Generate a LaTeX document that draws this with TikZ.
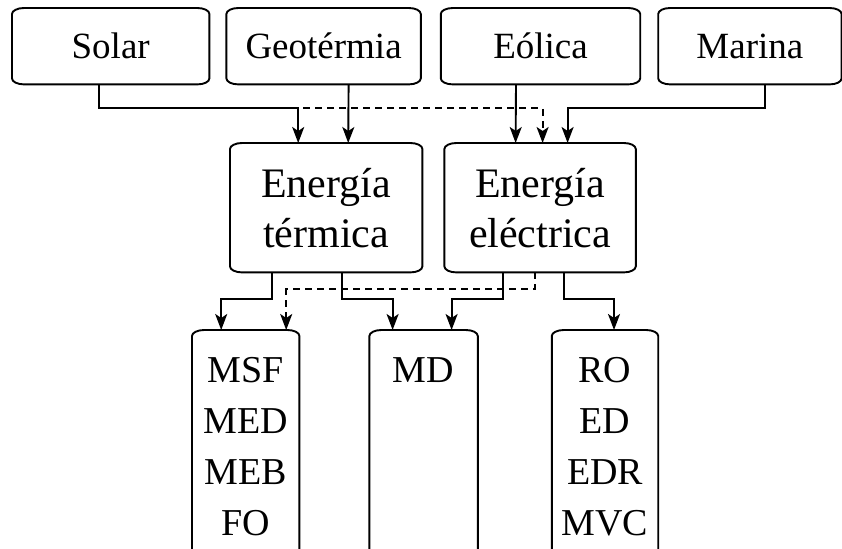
\documentclass[tikz,border=0pt]{standalone}
\usepackage{fontspec}
\setmainfont{Liberation Serif}
\usetikzlibrary{arrows.meta, positioning, calc}
\tikzstyle{line} = [line width=1.9pt]
\tikzstyle{arrow} = [line width=1.9pt, -{Stealth[length=16pt, width=12pt, inset=4pt]}]
\tikzstyle{dashedline} = [dash pattern=on 7pt off 5pt]
\tikzstyle{basic} = [rectangle, inner sep=0pt, align=center, text=black]
\tikzstyle{source} = [basic, minimum height=76pt, font=\fontsize{37}{43}\selectfont]
\tikzstyle{energy} = [basic, text width=192pt, minimum height=129pt, font=\fontsize{42}{50}\selectfont]
\tikzstyle{tech} = [basic, text width=107pt, text height=52pt, text depth=240pt, font=\fontsize{38}{51}\selectfont]
\begin{document}
\begin{tikzpicture}[x=1pt, y=-1pt, node distance=0pt]

\useasboundingbox (0,0) rectangle (842,548);
\clip (0,0) rectangle (842,548);

% sources
\node (solar) [source, minimum width=197pt, anchor=north west] at (12,8) {Solar};
\node (geo) [source, minimum width=194pt, anchor=west, xshift=17pt] at (solar.east) {Geotérmia};
\node (eolica) [source, minimum width=199pt, anchor=west, xshift=20pt] at (geo.east) {Eólica};
\node (marina) [source, minimum width=183pt, anchor=west, xshift=18pt] at (eolica.east) {Marina};

% energy
\node (termica) [energy, anchor=north west] at (230,143) {Energía\\térmica};
\node (electrica) [energy, text width=191pt, anchor=west, xshift=22pt] at (termica.east) {Energía\\eléctrica};

% technologies
\node (msf) [tech, anchor=north west] at (192,330) {MSF\\MED\\MEB\\FO};
\node (md) [tech, text width=108pt, anchor=west, xshift=70pt] at (msf.east) {MD};
\node (ro) [tech, text width=106pt, anchor=west, xshift=74pt] at (md.east) {RO\\ED\\EDR\\MVC};

% box outlines
\foreach \n in {solar, geo, eolica, marina, termica, electrica, msf, md, ro}
  \draw [line] ($(\n.north west)+(0,6)$) arc [start angle=180, end angle=90, x radius=12pt, y radius=6pt]
    -- ($(\n.north east)+(-12,0)$) arc [start angle=90, end angle=0, x radius=12pt, y radius=6pt]
    -- ($(\n.south east)+(0,-6)$) arc [start angle=0, end angle=-90, x radius=12pt, y radius=6pt]
    -- ($(\n.south west)+(12,0)$) arc [start angle=270, end angle=180, x radius=12pt, y radius=6pt]
    -- cycle;

\draw [arrow, dashedline] ($(solar.south)+(-11.5,0)$) -- ++(0,24) -| ($(electrica.north)+(2.5,0)$);
\draw [arrow] ($(solar.south)+(-11.5,0)$) -- ++(0,24) -| ($(termica.north)+(-28,0)$);
\draw [arrow] ($(geo.south)+(25,0)$) -- ($(termica.north)+(22,0)$);
\draw [arrow] ($(eolica.south)+(-24.5,0)$) -- ($(electrica.north)+(-24.5,0)$);
\draw [arrow] ($(marina.south)+(15.5,0)$) -- ++(0,24) -| ($(electrica.north)+(27.5,0)$);

\draw [arrow, dashedline] ($(electrica.south)+(-5.5,0)$) -- ++(0,17) -| ($(msf.north)+(40.5,0)$);
\draw [arrow] ($(termica.south)+(-54,0)$) -- ++(0,27) -| ($(msf.north)+(-24.5,0)$);
\draw [arrow] ($(termica.south)+(16,0)$) -- ++(0,27) -| ($(md.north)+(-31,0)$);
\draw [arrow] ($(electrica.south)+(-37.5,0)$) -- ++(0,27) -| ($(md.north)+(28,0)$);
\draw [arrow] ($(electrica.south)+(23.5,0)$) -- ++(0,27) -| ($(ro.north)+(9,0)$);

\end{tikzpicture}
\end{document}
